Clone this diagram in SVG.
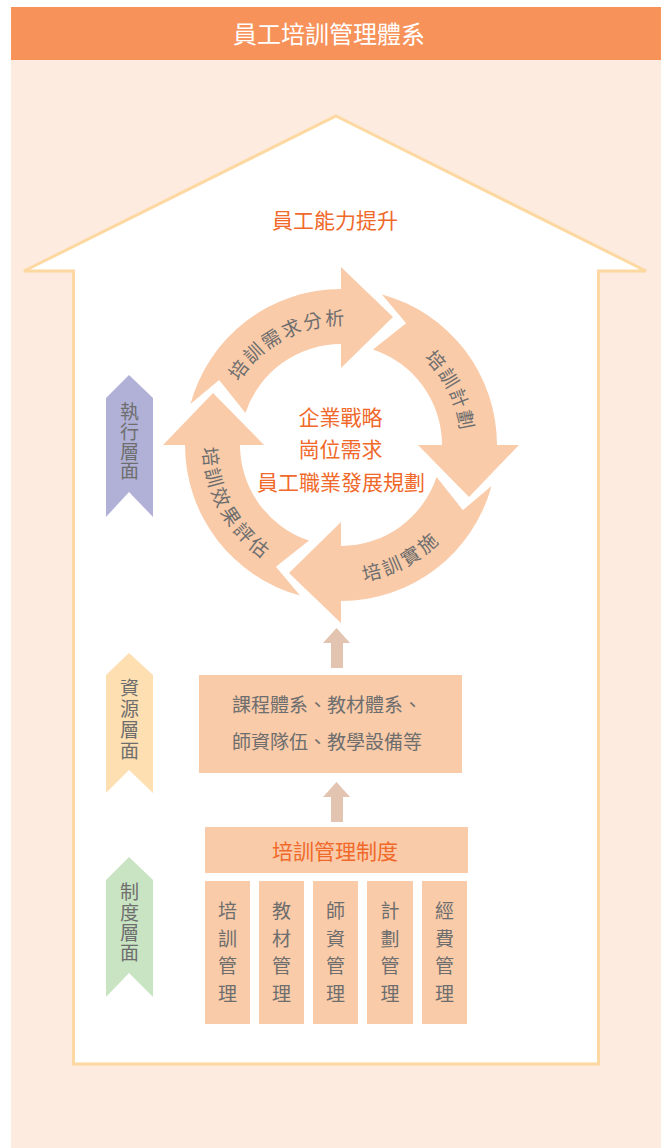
<svg xmlns="http://www.w3.org/2000/svg" width="661" height="1148" viewBox="0 0 661 1148">
  <style>
    .t { font-family: "Noto Sans CJK TC", "Noto Sans CJK SC", "Liberation Sans", sans-serif; }
    .gray { fill: #6e6e6e; }
    .org { fill: #f0692a; }
    .box { fill: #f9cba9; }
    .cyc { fill: #f9cba9; }
    .upar { fill: #e2c4b0; }
    .vert { font-size: 19px; fill: #6e6e6e; writing-mode: vertical-rl; text-orientation: upright; }
    .arc { font-size: 19px; fill: #6e6e6e; text-anchor: middle; }
  </style>
  <defs>
    <path id="cycArrow" d="M 40.96 -150.55 A 156 156 0 0 1 156 0 L 178 0 L 128 52 L 77 0 L 101 0 A 101 101 0 0 0 31.97 -95.58 L 65.10 -121.86 Z"/>
    <path id="p1" d="M 221.09 440.29 A 120 120 0 0 1 405.03 343.51"/>
    <path id="p2" d="M 348.74 325.25 A 120 120 0 0 1 440.83 511.58"/>
    <path id="p3" d="M 268.08 562.16 A 138 138 0 0 0 478.92 449.58"/>
    <path id="p4" d="M 222.83 373.72 A 138 138 0 0 0 338.35 582.98"/>
  </defs>

  <!-- background -->
  <rect x="11" y="60" width="650" height="1088" fill="#fdebdf"/>
  <g id="header">
    <rect x="11" y="7" width="650" height="53" fill="#f7925a"/>
    <text class="t" x="329" y="42.5" font-size="24" fill="#ffffff" text-anchor="middle">員工培訓管理體系</text>
  </g>

  <!-- house -->
  <g id="house">
    <polygon points="336,116 646,271 598.5,271 598.5,1064 73.5,1064 73.5,271 24,271" fill="#ffffff" stroke="#fdd8a0" stroke-width="3" stroke-linejoin="miter"/>
    <text class="t org" x="335" y="228" font-size="21" text-anchor="middle">員工能力提升</text>
  </g>

  <!-- layer ribbons -->
  <g id="layer-exec">
    <polygon points="129,375 153,398 153,517 129,492 106,517 106,398" fill="#b1b1d7"/>
    <text class="t vert" x="129.5" y="402.5" letter-spacing="0.7">執行層面</text>
  </g>
  <g id="layer-resource">
    <polygon points="129,653 153,675 153,793 129,770 106,793 106,675" fill="#fddfb1"/>
    <text class="t vert" x="129.5" y="678.5" letter-spacing="2">資源層面</text>
  </g>
  <g id="layer-system">
    <polygon points="129,857 153,880 153,997 129,973 106,997 106,880" fill="#c9e4c3"/>
    <text class="t vert" x="129.5" y="882.5" letter-spacing="1.3">制度層面</text>
  </g>

  <!-- cycle -->
  <g id="cycle-needs">
    <use href="#cycArrow" class="cyc" transform="translate(341,445) rotate(-90)"/>
    <text class="t arc" letter-spacing="2.3"><textPath href="#p1" startOffset="50%">培訓需求分析</textPath></text>
  </g>
  <g id="cycle-plan">
    <use href="#cycArrow" class="cyc" transform="translate(341,445)"/>
    <text class="t arc" letter-spacing="2.1"><textPath href="#p2" startOffset="50%">培訓計劃</textPath></text>
  </g>
  <g id="cycle-implement">
    <use href="#cycArrow" class="cyc" transform="translate(341,445) rotate(90)"/>
    <text class="t arc" letter-spacing="3.2"><textPath href="#p3" startOffset="50%">培訓實施</textPath></text>
  </g>
  <g id="cycle-evaluate">
    <use href="#cycArrow" class="cyc" transform="translate(341,445) rotate(180)"/>
    <text class="t arc" letter-spacing="3.3"><textPath href="#p4" startOffset="50%">培訓效果評估</textPath></text>
  </g>
  <g id="cycle-center">
    <text class="t org" x="340.5" y="424.5" font-size="21" text-anchor="middle">企業戰略</text>
    <text class="t org" x="340.5" y="457" font-size="21" text-anchor="middle">崗位需求</text>
    <text class="t org" x="341" y="489.5" font-size="21" text-anchor="middle">員工職業發展規劃</text>
  </g>

  <!-- resource box -->
  <g id="resources">
    <rect x="199" y="675" width="263" height="98" class="box"/>
    <text class="t gray" x="232" y="712" font-size="19">課程體系、教材體系、</text>
    <text class="t gray" x="232" y="749" font-size="19">師資隊伍、教學設備等</text>
  </g>

  <!-- management system -->
  <g id="system">
    <rect x="205" y="827" width="263" height="46" class="box"/>
    <text class="t org" x="335" y="859" font-size="21" text-anchor="middle">培訓管理制度</text>
  </g>
  <g id="col-training">
    <rect x="205" y="881" width="45" height="143" class="box"/>
    <text class="t vert" x="227.5" y="901.5" letter-spacing="8.5">培訓管理</text>
  </g>
  <g id="col-material">
    <rect x="259" y="881" width="45" height="143" class="box"/>
    <text class="t vert" x="281.5" y="901.5" letter-spacing="8.5">教材管理</text>
  </g>
  <g id="col-teacher">
    <rect x="313" y="881" width="45" height="143" class="box"/>
    <text class="t vert" x="335.5" y="901.5" letter-spacing="8.5">師資管理</text>
  </g>
  <g id="col-plan">
    <rect x="367" y="881" width="46" height="143" class="box"/>
    <text class="t vert" x="390" y="901.5" letter-spacing="8.5">計劃管理</text>
  </g>
  <g id="col-budget">
    <rect x="422" y="881" width="45" height="143" class="box"/>
    <text class="t vert" x="444.5" y="901.5" letter-spacing="8.5">經費管理</text>
  </g>

  <!-- connectors -->
  <g id="connectors">
    <polygon class="upar" points="336.5,628 350,643 343,643 343,668 331,668 331,643 323,643"/>
    <polygon class="upar" points="336.5,782 350,797 343,797 343,822 331,822 331,797 323,797"/>
  </g>
</svg>
